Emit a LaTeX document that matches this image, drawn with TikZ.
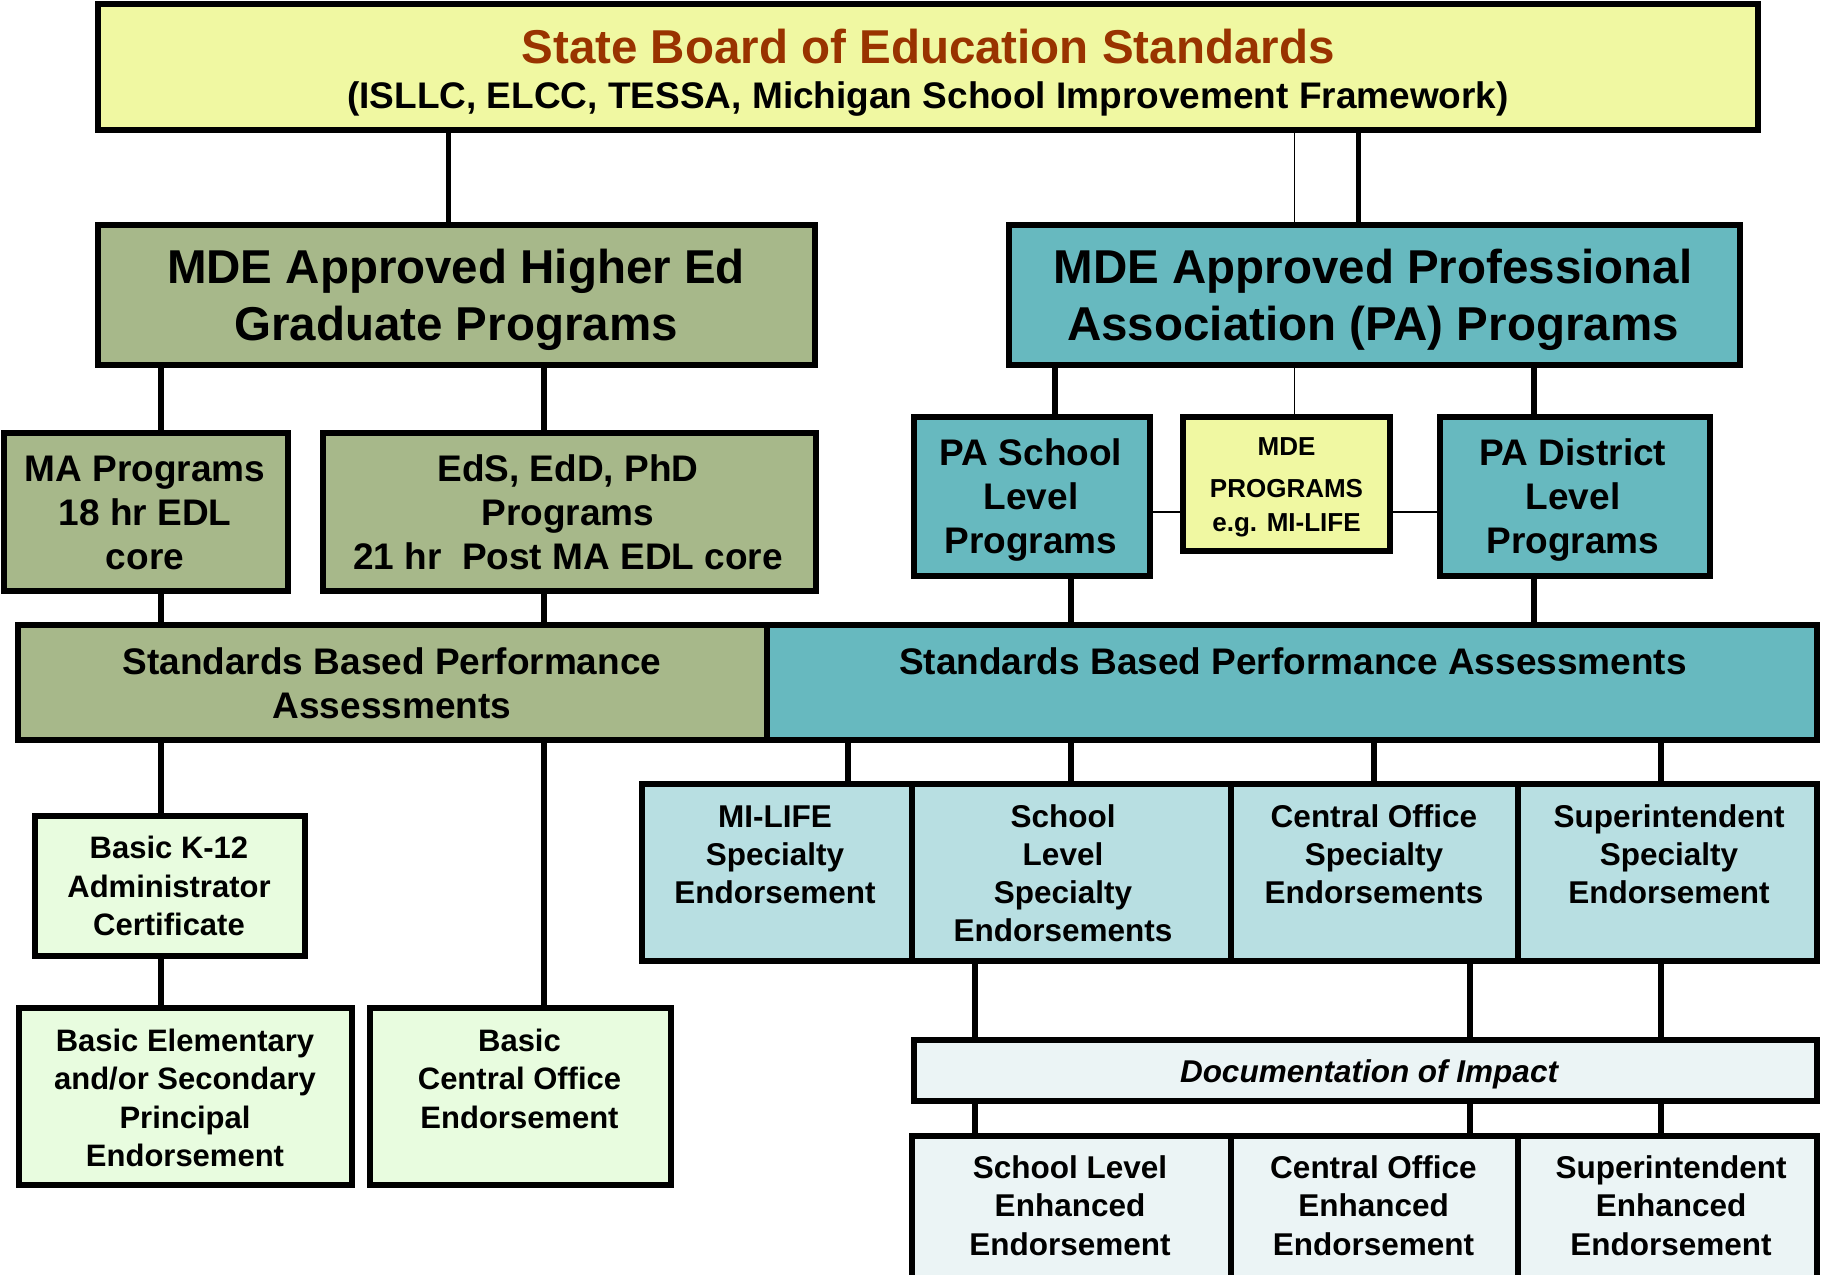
\documentclass[tikz,border=0pt]{standalone}
\usepackage{fontspec}
\setmainfont{Liberation Sans}
\newcommand\mlines[1]{\begin{tabular}[t]{@{}c@{}}#1\end{tabular}}
\definecolor{ttlyel}{HTML}{F0F8A2}
\definecolor{ttlred}{HTML}{993300}
\definecolor{olive}{HTML}{A7B88A}
\definecolor{teal}{HTML}{67B9BF}
\definecolor{lteal}{HTML}{B8DFE2}
\definecolor{lgreen}{HTML}{E8FCDF}
\definecolor{pale}{HTML}{EBF4F5}
\tikzset{
  box/.style={draw=black, line width=6pt, inner sep=0pt, anchor=center},
  conn/.style={line width=5.5pt},
  thinconn/.style={line width=1.8pt},
  lbl/.style={inner sep=0pt, anchor=base},
  fA/.style={font=\bfseries\fontsize{47.5}{57.6}\selectfont},
  fB/.style={font=\bfseries\fontsize{37}{44}\selectfont},
  fC/.style={font=\bfseries\fontsize{26}{34.7}\selectfont},
  fD/.style={font=\bfseries\fontsize{31}{38.5}\selectfont},
  fE/.style={font=\bfseries\fontsize{31.5}{38.3}\selectfont},
}
\begin{document}
\begin{tikzpicture}[x=1pt,y=-1pt]
\useasboundingbox (0,0) rectangle (1822,1274);
% boxes
\node[box, fill=ttlyel, minimum width=1660, minimum height=126.5] (top) at (928,66.75) {};
\node[box, fill=olive, minimum width=717, minimum height=140] (he) at (456.5,295) {};
\node[box, fill=teal, minimum width=731, minimum height=140] (pa) at (1374.5,295) {};
\node[box, fill=olive, minimum width=284.1, minimum height=158] (ma) at (145.55,512) {};
\node[box, fill=olive, minimum width=493.5, minimum height=158] (eds) at (569.25,512) {};
\node[box, fill=teal, minimum width=236, minimum height=158.5] (pas) at (1032,496.25) {};
\node[box, fill=ttlyel, minimum width=207, minimum height=134] (mde) at (1286.5,484) {};
\node[box, fill=teal, minimum width=270, minimum height=158.5] (pad) at (1575,496.25) {};
\node[box, fill=olive, minimum width=749, minimum height=115] (sbl) at (392.5,682.5) {};
\node[box, fill=teal, minimum width=1050, minimum height=115] (sbr) at (1292,682.5) {};
\node[box, fill=lgreen, minimum width=270, minimum height=139.7] (k12) at (170,885.85) {};
\node[box, fill=lgreen, minimum width=332.9, minimum height=177] (bep) at (185.05,1096.5) {};
\node[box, fill=lgreen, minimum width=301, minimum height=177] (bco) at (520.5,1096.5) {};
\node[box, fill=lteal, minimum width=270.5, minimum height=176.6] (mil) at (776.75,872.3) {};
\node[box, fill=lteal, minimum width=319, minimum height=176.6] (sls) at (1071.5,872.3) {};
\node[box, fill=lteal, minimum width=287, minimum height=176.6] (cos) at (1374.5,872.3) {};
\node[box, fill=lteal, minimum width=299, minimum height=176.6] (sus) at (1667.5,872.3) {};
\node[box, fill=pale, minimum width=903, minimum height=61] (doc) at (1365.5,1070.5) {};
\node[box, fill=pale, minimum width=319, minimum height=164] (sle) at (1071.5,1218) {};
\node[box, fill=pale, minimum width=287, minimum height=164] (coe) at (1374.5,1218) {};
\node[box, fill=pale, minimum width=299, minimum height=164] (sue) at (1667.5,1218) {};
% connector x positions
\coordinate (xa) at (448.6,0);
\coordinate (xb) at (1294.5,0);
\coordinate (xc) at (1358.4,0);
\coordinate (xd) at (161,0);
\coordinate (xe) at (544,0);
\coordinate (xf) at (1055,0);
\coordinate (xg) at (1534,0);
\coordinate (xh) at (1071,0);
\coordinate (xi) at (848,0);
\coordinate (xj) at (1374,0);
\coordinate (xk) at (1661,0);
\coordinate (xl) at (975,0);
\coordinate (xm) at (1470,0);
\coordinate (yr) at (0,512);
% connectors
\draw[conn] (top.south -| xa) -- (he.north -| xa);
\draw[thinconn] (top.south -| xb) -- (pa.north -| xb);
\draw[conn] (top.south -| xc) -- (pa.north -| xc);
\draw[conn] (he.south -| xd) -- (ma.north -| xd);
\draw[conn] (he.south -| xe) -- (eds.north -| xe);
\draw[conn] (ma.south -| xd) -- (sbl.north -| xd);
\draw[conn] (eds.south -| xe) -- (sbl.north -| xe);
\draw[conn] (pa.south -| xf) -- (pas.north -| xf);
\draw[thinconn] (pa.south -| xb) -- (mde.north -| xb);
\draw[conn] (pa.south -| xg) -- (pad.north -| xg);
\draw[thinconn] (pas.east |- yr) -- (mde.west |- yr);
\draw[thinconn] (mde.east |- yr) -- (pad.west |- yr);
\draw[conn] (pas.south -| xh) -- (sbr.north -| xh);
\draw[conn] (pad.south -| xg) -- (sbr.north -| xg);
\draw[conn] (sbl.south -| xd) -- (k12.north -| xd);
\draw[conn] (sbl.south -| xe) -- (bco.north -| xe);
\draw[conn] (k12.south -| xd) -- (bep.north -| xd);
\draw[conn] (sbr.south -| xi) -- (mil.north -| xi);
\draw[conn] (sbr.south -| xh) -- (sls.north -| xh);
\draw[conn] (sbr.south -| xj) -- (cos.north -| xj);
\draw[conn] (sbr.south -| xk) -- (sus.north -| xk);
\draw[conn] (sls.south -| xl) -- (doc.north -| xl);
\draw[conn] (cos.south -| xm) -- (doc.north -| xm);
\draw[conn] (sus.south -| xk) -- (doc.north -| xk);
\draw[conn] (doc.south -| xl) -- (sle.north -| xl);
\draw[conn] (doc.south -| xm) -- (coe.north -| xm);
\draw[conn] (doc.south -| xk) -- (sue.north -| xk);
% texts
\node[lbl, fA, text=ttlred] (t1) at (928,63) {State Board of Education Standards};
\node[lbl, fB] (t2) at (928,108) {(ISLLC, ELCC, TESSA, Michigan School Improvement Framework)};
\node[lbl, fA] (the) at (456,283) {\mlines{MDE Approved Higher Ed\\Graduate Programs}};
\node[lbl, fA] (tpa) at (1373,283) {\mlines{MDE Approved Professional\\Association (PA) Programs}};
\node[lbl, fB] (tma) at (145,481.7) {\mlines{MA Programs\\18 hr EDL\\core}};
\node[lbl, fB] (teds) at (568,481.7) {\mlines{EdS, EdD, PhD\\Programs\\21 hr\ \ Post MA EDL core}};
\node[lbl, fB] (tpas) at (1031,465.5) {\mlines{PA School\\Level\\Programs}};
\node[lbl, fC] (tmde) at (1286.5,455) {\mlines{MDE\\[7.3pt]PROGRAMS\\e.g. MI-LIFE}};
\node[lbl, fB] (tpad) at (1573,465.5) {\mlines{PA District\\Level\\Programs}};
\node[lbl, fB] (tsbl) at (392,674) {\mlines{Standards Based Performance\\Assessments}};
\node[lbl, fB] (tsbr) at (1293,674) {Standards Based Performance Assessments};
\node[lbl, fD] (tk12) at (169,858.5) {\mlines{Basic K-12\\Administrator\\Certificate}};
\node[lbl, fD] (tbep) at (185,1051) {\mlines{Basic Elementary\\and/or Secondary\\Principal\\Endorsement}};
\node[lbl, fD] (tbco) at (519.5,1051) {\mlines{Basic\\Central Office\\Endorsement}};
\node[lbl, fE] (tmil) at (775,827) {\mlines{MI-LIFE\\Specialty\\Endorsement}};
\node[lbl, fE] (tsls) at (1063,827) {\mlines{School\\Level\\Specialty\\Endorsements}};
\node[lbl, fE] (tcos) at (1374,827) {\mlines{Central Office\\Specialty\\Endorsements}};
\node[lbl, fE] (tsus) at (1669,827) {\mlines{Superintendent\\Specialty\\Endorsement}};
\node[lbl, fE, font=\bfseries\itshape\fontsize{31.5}{38.3}\selectfont] (tdoc) at (1369,1082) {Documentation of Impact};
\node[lbl, fE] (tsle) at (1070,1178.5) {\mlines{School Level\\Enhanced\\Endorsement}};
\node[lbl, fE] (tcoe) at (1373.5,1178.5) {\mlines{Central Office\\Enhanced\\Endorsement}};
\node[lbl, fE] (tsue) at (1671,1178.5) {\mlines{Superintendent\\Enhanced\\Endorsement}};
\end{tikzpicture}
\end{document}
